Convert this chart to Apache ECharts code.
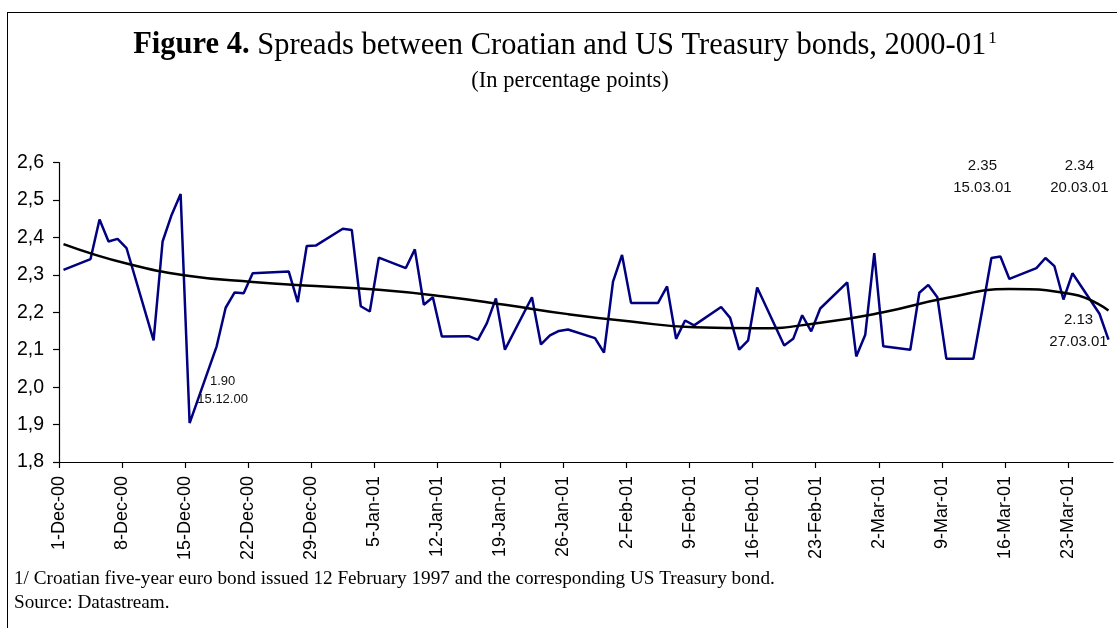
<!DOCTYPE html>
<html>
<head>
<meta charset="utf-8">
<script src="https://cdn.jsdelivr.net/npm/echarts@6/dist/echarts.min.js"></script>
<style>
html,body{margin:0;padding:0;background:#fff;overflow:hidden;}
#frame{position:absolute;left:7px;top:12px;width:1300px;height:800px;border-left:1.5px solid #000;border-top:1.5px solid #000;}
#chart{position:absolute;left:0;top:0;width:1117px;height:628px;}
</style>
</head>
<body>
<div id="frame"></div>
<div id="chart"></div>
<script>
// ---- data ----
const dates = [
'2000-12-01','2000-12-04','2000-12-05','2000-12-06','2000-12-07','2000-12-08',
'2000-12-11','2000-12-12','2000-12-13','2000-12-14','2000-12-15',
'2000-12-18','2000-12-19','2000-12-20','2000-12-21','2000-12-22',
'2000-12-26','2000-12-27','2000-12-28','2000-12-29',
'2001-01-01','2001-01-02','2001-01-03','2001-01-04','2001-01-05',
'2001-01-08','2001-01-09','2001-01-10','2001-01-11','2001-01-12',
'2001-01-15','2001-01-16','2001-01-17','2001-01-18','2001-01-19',
'2001-01-22','2001-01-23','2001-01-24','2001-01-25','2001-01-26',
'2001-01-29','2001-01-30','2001-01-31','2001-02-01','2001-02-02',
'2001-02-05','2001-02-06','2001-02-07','2001-02-08','2001-02-09',
'2001-02-12','2001-02-13','2001-02-14','2001-02-15','2001-02-16',
'2001-02-19','2001-02-20','2001-02-21','2001-02-22','2001-02-23',
'2001-02-26','2001-02-27','2001-02-28','2001-03-01','2001-03-02',
'2001-03-05','2001-03-06','2001-03-07','2001-03-08','2001-03-09',
'2001-03-12','2001-03-13','2001-03-14','2001-03-15','2001-03-16',
'2001-03-19','2001-03-20','2001-03-21','2001-03-22','2001-03-23',
'2001-03-26','2001-03-27'
];
const spreads = [
2.313,2.342,2.448,2.389,2.396,2.371,
2.125,2.389,2.460,2.516,1.904,
2.109,2.212,2.253,2.251,2.304,
2.309,2.227,2.377,2.378,
2.423,2.420,2.216,2.202,2.346,
2.318,2.368,2.220,2.240,2.135,
2.136,2.126,2.171,2.237,2.100,
2.240,2.114,2.138,2.150,2.154,
2.131,2.092,2.282,2.353,2.225,
2.225,2.269,2.129,2.178,2.165,
2.214,2.185,2.100,2.125,2.266,
2.111,2.129,2.192,2.149,2.210,
2.280,2.082,2.140,2.358,2.109,
2.100,2.252,2.273,2.240,2.076,
2.076,2.208,2.345,2.349,2.289,
2.318,2.345,2.323,2.234,2.304,
2.196,2.127
];
const trendDates = [
'2000-12-01','2000-12-08','2000-12-15','2000-12-22','2000-12-29',
'2001-01-05','2001-01-12','2001-01-19','2001-01-26','2001-02-02',
'2001-02-09','2001-02-16','2001-02-23','2001-03-02','2001-03-09',
'2001-03-16','2001-03-23','2001-03-27'
];
const trendValues = [
2.382,2.330,2.297,2.281,2.270,
2.260,2.243,2.220,2.195,2.175,
2.160,2.157,2.172,2.200,2.238,
2.262,2.248,2.205
];
const tickLabels = ['1-Dec-00','8-Dec-00','15-Dec-00','22-Dec-00','29-Dec-00','5-Jan-01','12-Jan-01',
'19-Jan-01','26-Jan-01','2-Feb-01','9-Feb-01','16-Feb-01','23-Feb-01','2-Mar-01','9-Mar-01','16-Mar-01','23-Mar-01'];
const annotations = [
  {date:'2000-12-15', text:'1.90\n15.12.00'},
  {date:'2001-03-15', text:'2.35\n15.03.01'},
  {date:'2001-03-20', text:'2.34\n20.03.01'},
  {date:'2001-03-27', text:'2.13\n27.03.01'}
];

// ---- build ----
const start = Date.parse('2000-12-01');
const dayIdx = d => (Date.parse(d) - start) / 86400000;
const slot = d => dayIdx(d) + 0.5; // points sit in the middle of each day slot
const spreadData = dates.map((d,i) => [slot(d), spreads[i]]);
const trendData = trendDates.map((d,i) => [slot(d), trendValues[i]]);
const tickPos = tickLabels.map((_, i) => i * 7);

const labelStyles = [
  {fontSize:13, lineHeight:18, offset:[33,-33]},
  {fontSize:15, lineHeight:22, offset:[-18,-80]},
  {fontSize:15, lineHeight:22, offset:[34,-81]},
  {fontSize:15, lineHeight:22, offset:[-30,-9]}
];
const spreadMap = {};
dates.forEach((d,i)=>{spreadMap[d]=spreads[i];});
const markData = annotations.map((a,i) => ({
  coord: [slot(a.date), spreadMap[a.date]],
  value: a.text,
  label: {
    show:true, position:'inside', formatter: a.text,
    fontFamily:'Liberation Sans, Arial, sans-serif', color:'#111',
    fontSize: labelStyles[i].fontSize, lineHeight: labelStyles[i].lineHeight,
    offset: labelStyles[i].offset, align:'center', verticalAlign:'middle'
  }
}));

const serif = 'Liberation Serif, Times New Roman, serif';
const sans = 'Liberation Sans, Arial, sans-serif';
const chart = echarts.init(document.getElementById('chart'), null, {renderer:'canvas'});
chart.setOption({
  animation:false,
  backgroundColor:'transparent',
  title:[
    {
      text:'{b|Figure 4.} Spreads between Croatian and US Treasury bonds, 2000-01{s|1}',
      left:560, top:25, textAlign:'center',
      textStyle:{
        fontFamily:serif, fontSize:30.5, fontWeight:'normal', color:'#000',
        rich:{
          b:{fontFamily:serif, fontSize:30.5, fontWeight:'bold', color:'#000'},
          s:{fontFamily:serif, fontSize:17, color:'#000', verticalAlign:'top', padding:[0,0,12,2]}
        }
      }
    },
    {
      text:'(In percentage points)',
      left:565, top:65, textAlign:'center',
      textStyle:{fontFamily:serif, fontSize:22.5, fontWeight:'normal', color:'#000'}
    },
    {
      text:'1/ Croatian five-year euro bond issued 12 February 1997 and the corresponding US Treasury bond.',
      left:9, top:564,
      textStyle:{fontFamily:serif, fontSize:19.2, fontWeight:'normal', color:'#000'}
    },
    {
      text:'Source: Datastream.',
      left:9, top:588,
      textStyle:{fontFamily:serif, fontSize:19.2, fontWeight:'normal', color:'#000'}
    }
  ],
  grid:{left:59, right:4, top:162.5, bottom:166, containLabel:false},
  xAxis:{
    type:'value', min:0, max:117, interval:7,
    axisLine:{show:true, onZero:false, lineStyle:{color:'#000', width:1.2}},
    axisTick:{show:true, length:6, lineStyle:{color:'#000', width:1.2}, customValues: tickPos},
    axisLabel:{
      show:true, rotate:90, margin:14, customValues: tickPos,
      fontFamily:sans, fontSize:18, color:'#000',
      formatter: v => tickLabels[Math.round(v/7)] || ''
    },
    splitLine:{show:false}
  },
  yAxis:{
    type:'value', min:1.8, max:2.6, interval:0.1,
    axisLine:{show:true, lineStyle:{color:'#000', width:1.2}},
    axisTick:{show:true, length:6, lineStyle:{color:'#000', width:1.2}},
    axisLabel:{
      show:true, margin:15, fontFamily:sans, fontSize:19.5, color:'#000',
      formatter: v => v.toFixed(1).replace('.', ',')
    },
    splitLine:{show:false}
  },
  series:[
    {
      type:'line', name:'Spread', data: spreadData, symbol:'none',
      lineStyle:{color:'#000080', width:2.5}, z:2,
      markPoint:{
        symbol:'circle', symbolSize:1, itemStyle:{color:'rgba(0,0,0,0)'},
        data: markData, silent:true
      }
    },
    {
      type:'line', name:'Trend', data: trendData, symbol:'none', smooth:0.5,
      lineStyle:{color:'#000', width:2.5}, z:3
    }
  ]
});
</script>
</body>
</html>
